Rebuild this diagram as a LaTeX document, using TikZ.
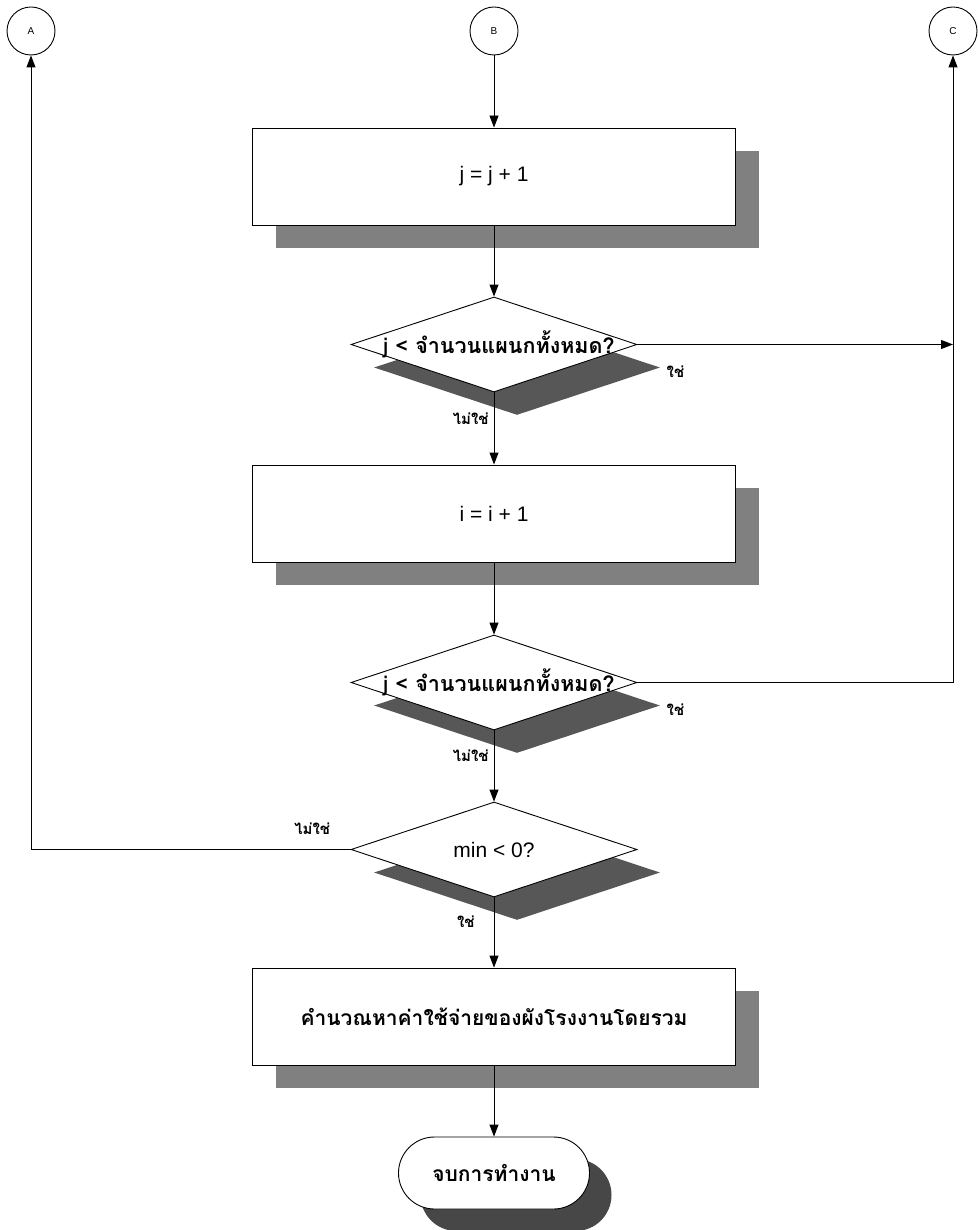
\documentclass[tikz,border=0pt]{standalone}
\usepackage{fontspec}
\setmainfont{Liberation Sans}
\newfontfamily\thaifont[Script=Thai]{Loma}
\usetikzlibrary{shapes.geometric, arrows.meta, shadows}

\begin{document}
\begin{tikzpicture}[x=1pt, y=-1pt,
  connector/.style={circle, draw, minimum size=48pt, inner sep=0pt, line width=0.9pt, font=\fontsize{10}{12}\selectfont},
  box/.style={rectangle, draw, fill=white, minimum width=483pt, minimum height=97pt, line width=0.9pt, font=\fontsize{21}{25}\selectfont, drop shadow={shadow xshift=23pt, shadow yshift=-23pt, fill=black!50, opacity=1}},
  decision/.style={diamond, draw, fill=white, minimum width=286pt, minimum height=95pt, inner sep=0pt, line width=0.9pt, font=\fontsize{21}{25}\selectfont, drop shadow={shadow xshift=23pt, shadow yshift=-23pt, fill=black!66, opacity=1}},
  terminal/.style={rectangle, rounded corners=36pt, draw, fill=white, minimum width=191pt, minimum height=72pt, line width=0.9pt, font=\thaifont\bfseries\fontsize{21}{25}\selectfont, drop shadow={shadow xshift=22pt, shadow yshift=-22pt, fill=black!72, opacity=1}},
  lbl/.style={font=\thaifont\bfseries\fontsize{15}{17}\selectfont, inner sep=5pt},
  arrow/.style={-{Triangle[length=12pt, width=9pt]}, line width=0.9pt},
]
\useasboundingbox (0,0) rectangle (977,1230);

\node[connector] (cA) at (31,31) {A};
\node[connector] (cB) at (494,31) {B};
\node[connector] (cC) at (953,31) {C};
\node[box] (incj) at (494,176.5) {j = j + 1};
\node[decision] (chkj) at (494,344.5) {\makebox[0pt]{\hspace{10pt}\thaifont\bfseries\fontsize{21.5}{26}\selectfont j < จำนวนแผนกทั้งหมด?}};
\node[box] (inci) at (494,513.5) {i = i + 1};
\node[decision] (chki) at (494,682.5) {\makebox[0pt]{\hspace{10pt}\thaifont\bfseries\fontsize{21.5}{26}\selectfont j < จำนวนแผนกทั้งหมด?}};
\node[decision] (chkmin) at (494,849.5) {\makebox[0pt]{min < 0?}};
\node[box, font=\thaifont\bfseries\fontsize{21}{25}\selectfont] (total) at (494,1016.5) {คำนวณหาค่าใช้จ่ายของผังโรงงานโดยรวม};
\node[terminal] (done) at (494,1173) {จบการทำงาน};

\node[lbl] at ([shift={(38,27)}]chkj.east) {ใช่};
\node[lbl] at ([shift={(38,27)}]chki.east) {ใช่};

\draw[arrow] (cB) -- (incj);
\draw[arrow] (incj) -- (chkj);
\draw[arrow] (chkj.east) -- (chkj.east -| cC);
\draw[arrow] (chkj) -- node[lbl, pos=0.36, left]{ไม่ใช่} (inci);
\draw[arrow] (inci) -- (chki);
\draw[arrow] (chki.east) -| (cC);
\draw[arrow] (chki) -- node[lbl, pos=0.36, left]{ไม่ใช่} (chkmin);
\draw[arrow] (chkmin.west) -| node[lbl, pos=0.06, above=9pt]{ไม่ใช่} (cA);
\draw[arrow] (chkmin) -- node[lbl, pos=0.35, left, xshift=-14pt]{ใช่} (total);
\draw[arrow] (total) -- (done);

\end{tikzpicture}
\end{document}
